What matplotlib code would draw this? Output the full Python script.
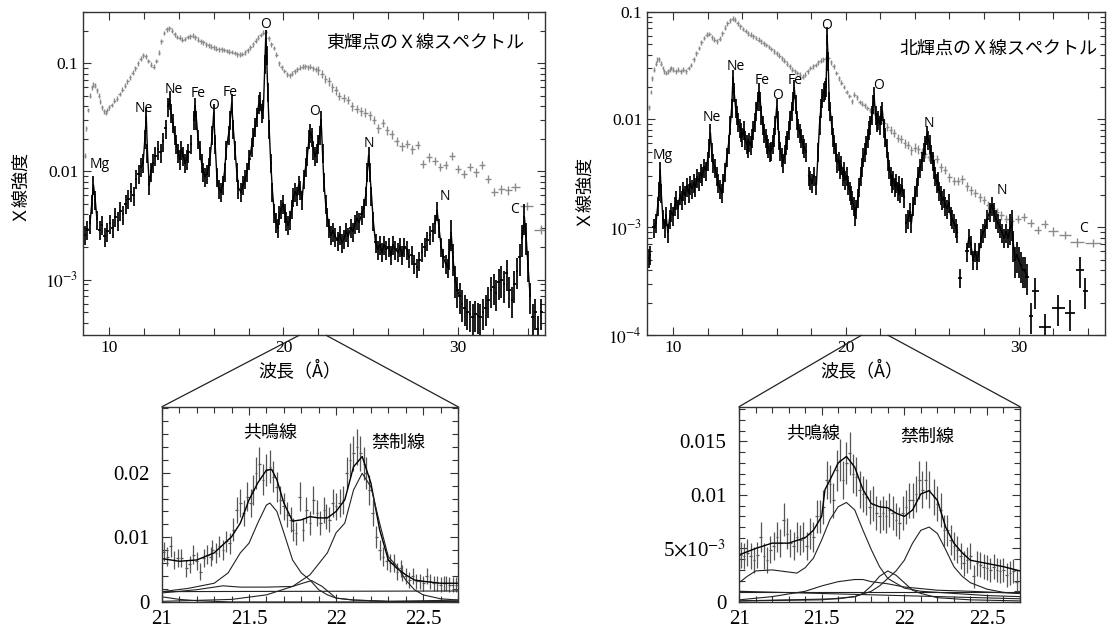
import numpy as np
import matplotlib
matplotlib.use('Agg')
import matplotlib.pyplot as plt
from matplotlib.patches import ConnectionPatch
from matplotlib.ticker import FixedLocator, FixedFormatter, MultipleLocator, LogLocator, NullFormatter

plt.rcParams['mathtext.fontset'] = 'stix'
JP = ['Noto Sans CJK JP', 'DejaVu Sans']
SERIF = ['Liberation Serif', 'DejaVu Serif']
LAB = ['Open Sans', 'DejaVu Sans']

# ---------------- data: east bright point (left) ----------------
EAST_BLACK = [
    (8.60, 2.6e-3), (8.75, 2.9e-3), (8.90, 3.3e-3), (9.00, 5.0e-3), (9.10, 7.5e-3), (9.20, 5.5e-3),
    (9.30, 3.6e-3), (9.45, 2.9e-3), (9.60, 3.2e-3), (9.75, 2.5e-3), (9.90, 2.8e-3), (10.05, 3.3e-3),
    (10.20, 3.0e-3), (10.35, 3.8e-3), (10.50, 3.5e-3), (10.65, 4.3e-3), (10.80, 4.0e-3), (10.95, 5.0e-3),
    (11.10, 5.6e-3), (11.25, 6.5e-3), (11.40, 6.0e-3), (11.55, 8.5e-3), (11.70, 9.5e-3), (11.85, 0.011),
    (11.95, 0.012), (12.05, 0.020), (12.13, 0.032), (12.20, 0.015), (12.30, 7.5e-3), (12.40, 0.010),
    (12.50, 0.012), (12.65, 0.014), (12.80, 0.016), (12.95, 0.015), (13.10, 0.019), (13.25, 0.025),
    (13.40, 0.040), (13.47, 0.046), (13.55, 0.035), (13.65, 0.028), (13.75, 0.022), (13.85, 0.018),
    (13.95, 0.015), (14.05, 0.013), (14.15, 0.016), (14.25, 0.014), (14.35, 0.012), (14.45, 0.013),
    (14.55, 0.015), (14.70, 0.018), (14.85, 0.030), (14.93, 0.040), (15.01, 0.030), (15.10, 0.020),
    (15.20, 0.016), (15.30, 0.012), (15.40, 0.010), (15.50, 9.0e-3), (15.60, 9.5e-3), (15.70, 0.011),
    (15.80, 0.014), (15.92, 0.022), (16.00, 0.035), (16.08, 0.018), (16.18, 9.0e-3), (16.28, 7.0e-3),
    (16.40, 6.5e-3), (16.52, 7.5e-3), (16.62, 0.010), (16.72, 0.016), (16.85, 0.022), (16.95, 0.030),
    (17.03, 0.043), (17.12, 0.025), (17.22, 0.016), (17.32, 0.010), (17.42, 7.0e-3), (17.55, 6.5e-3),
    (17.68, 7.5e-3), (17.80, 8.5e-3), (17.92, 0.010), (18.05, 0.013), (18.17, 0.017), (18.28, 0.021),
    (18.38, 0.026), (18.48, 0.032), (18.58, 0.042), (18.66, 0.045), (18.75, 0.035), (18.85, 0.038),
    (18.93, 0.10), (18.98, 0.17), (19.03, 0.12), (19.10, 0.055), (19.18, 0.025), (19.27, 0.012),
    (19.37, 6.5e-3), (19.47, 4.2e-3), (19.57, 3.4e-3), (19.67, 3.0e-3), (19.77, 4.0e-3), (19.87, 4.5e-3),
    (19.97, 5.0e-3), (20.07, 4.2e-3), (20.17, 3.5e-3), (20.27, 3.2e-3), (20.37, 3.6e-3), (20.47, 4.5e-3),
    (20.57, 5.8e-3), (20.67, 6.5e-3), (20.77, 6.0e-3), (20.87, 7.5e-3), (20.97, 6.8e-3), (21.07, 5.5e-3),
    (21.17, 8.5e-3), (21.27, 0.011), (21.37, 0.014), (21.47, 0.020), (21.55, 0.023), (21.63, 0.021),
    (21.72, 0.016), (21.80, 0.014), (21.90, 0.015), (22.00, 0.018), (22.08, 0.022), (22.16, 0.030),
    (22.24, 0.015), (22.32, 8.0e-3), (22.42, 5.0e-3), (22.52, 3.8e-3), (22.62, 3.0e-3), (22.72, 2.6e-3),
    (22.85, 2.8e-3), (22.98, 2.5e-3), (23.10, 2.3e-3), (23.22, 2.6e-3), (23.35, 2.2e-3), (23.48, 2.4e-3),
    (23.60, 2.8e-3), (23.72, 2.5e-3), (23.85, 3.0e-3), (23.98, 2.8e-3), (24.10, 3.3e-3), (24.22, 3.6e-3),
    (24.35, 3.4e-3), (24.48, 4.0e-3), (24.60, 4.6e-3), (24.72, 6.0e-3), (24.82, 0.010), (24.88, 0.014),
    (24.95, 0.010), (25.05, 6.0e-3), (25.15, 3.5e-3), (25.28, 2.2e-3), (25.40, 1.9e-3), (25.52, 2.1e-3),
    (25.65, 1.8e-3), (25.78, 2.1e-3), (25.90, 1.9e-3), (26.03, 2.0e-3), (26.16, 1.7e-3), (26.29, 2.1e-3),
    (26.42, 1.9e-3), (26.55, 1.8e-3), (26.68, 2.0e-3), (26.81, 1.7e-3), (26.94, 2.0e-3), (27.07, 1.9e-3),
    (27.20, 1.6e-3), (27.35, 1.7e-3), (27.50, 1.4e-3), (27.65, 1.3e-3), (27.80, 1.5e-3), (27.95, 1.8e-3),
    (28.10, 2.0e-3), (28.25, 2.3e-3), (28.40, 2.6e-3), (28.55, 2.8e-3), (28.70, 3.3e-3), (28.82, 4.3e-3),
    (28.92, 3.0e-3), (29.05, 2.0e-3), (29.18, 1.6e-3), (29.30, 1.4e-3), (29.42, 1.3e-3), (29.52, 1.8e-3),
    (29.62, 2.7e-3), (29.72, 1.6e-3), (29.85, 1.0e-3), (29.98, 8.0e-4), (30.10, 7.0e-4), (30.25, 6.0e-4),
    (30.40, 5.5e-4), (30.55, 5.0e-4), (30.70, 4.8e-4), (30.85, 4.5e-4), (31.00, 4.8e-4), (31.15, 4.6e-4),
    (31.30, 4.5e-4), (31.45, 5.0e-4), (31.60, 5.5e-4), (31.75, 6.5e-4), (31.90, 8.0e-4), (32.05, 8.5e-4),
    (32.20, 7.5e-4), (32.35, 9.5e-4), (32.50, 1.0e-3), (32.65, 9.0e-4), (32.80, 1.15e-3), (32.95, 8.0e-4),
    (33.10, 6.5e-4), (33.25, 9.0e-4), (33.40, 1.2e-3), (33.55, 1.6e-3), (33.70, 2.4e-3), (33.82, 3.8e-3),
    (33.92, 2.5e-3), (34.02, 1.4e-3), (34.15, 7.0e-4), (34.30, 4.5e-4), (34.45, 5.0e-4), (34.60, 3.5e-4),
    (34.80, 5.0e-4),
]

EAST_GRAY = [
    (8.60, 0.014), (8.70, 0.025), (8.80, 0.037), (8.90, 0.050), (9.00, 0.060), (9.10, 0.064),
    (9.20, 0.062), (9.30, 0.056), (9.40, 0.050), (9.50, 0.044), (9.60, 0.039), (9.70, 0.036),
    (9.80, 0.035), (9.90, 0.037), (10.00, 0.039), (10.15, 0.041), (10.30, 0.045), (10.45, 0.047),
    (10.60, 0.052), (10.75, 0.057), (10.90, 0.062), (11.05, 0.068), (11.20, 0.074), (11.35, 0.082),
    (11.50, 0.090), (11.65, 0.100), (11.80, 0.110), (11.95, 0.118), (12.10, 0.116), (12.25, 0.105),
    (12.40, 0.097), (12.55, 0.093), (12.70, 0.105), (12.85, 0.125), (13.00, 0.160), (13.15, 0.190),
    (13.30, 0.205), (13.45, 0.210), (13.60, 0.200), (13.75, 0.185), (13.90, 0.175), (14.05, 0.172),
    (14.20, 0.165), (14.35, 0.168), (14.50, 0.175), (14.65, 0.178), (14.80, 0.180), (14.95, 0.174),
    (15.10, 0.165), (15.25, 0.160), (15.40, 0.156), (15.55, 0.150), (15.70, 0.146), (15.85, 0.142),
    (16.00, 0.140), (16.15, 0.136), (16.30, 0.134), (16.45, 0.135), (16.60, 0.133), (16.75, 0.130),
    (16.90, 0.128), (17.05, 0.127), (17.20, 0.124), (17.35, 0.121), (17.50, 0.120), (17.65, 0.122),
    (17.80, 0.126), (17.95, 0.132), (18.10, 0.140), (18.25, 0.150), (18.40, 0.162), (18.55, 0.172),
    (18.70, 0.182), (18.85, 0.192), (19.00, 0.195), (19.15, 0.170), (19.30, 0.150), (19.45, 0.138),
    (19.60, 0.120), (19.75, 0.100), (19.90, 0.092), (20.05, 0.085), (20.20, 0.079), (20.35, 0.077),
    (20.50, 0.080), (20.65, 0.084), (20.80, 0.088), (20.95, 0.091), (21.10, 0.093), (21.25, 0.094),
    (21.40, 0.092), (21.55, 0.093), (21.70, 0.090), (21.85, 0.088), (22.00, 0.086), (22.20, 0.080),
    (22.40, 0.072), (22.60, 0.068), (22.80, 0.060), (23.00, 0.056), (23.20, 0.050), (23.45, 0.048),
    (23.70, 0.046), (23.95, 0.040), (24.20, 0.038), (24.45, 0.036), (24.70, 0.035), (24.95, 0.033),
    (25.20, 0.030), (25.45, 0.025), (25.70, 0.028), (25.95, 0.024), (26.20, 0.022), (26.50, 0.019),
    (26.80, 0.017), (27.10, 0.018), (27.40, 0.016), (27.70, 0.0175), (28.00, 0.0118), (28.35, 0.0135),
    (28.70, 0.0125), (29.00, 0.011), (29.30, 0.0115), (29.65, 0.014), (30.00, 0.0105), (30.35, 0.0095),
    (30.70, 0.011), (31.05, 0.0098), (31.40, 0.0115), (31.75, 0.0085), (32.10, 0.0065), (32.50, 0.0068),
    (32.90, 0.0067), (33.30, 0.0072), (33.95, 0.0048), (34.80, 0.0029),
]

# ---------------- data: north bright point (right) ----------------
NORTH_BLACK = [
    (8.60, 5.2e-4), (8.66, 5.6e-4), (8.90, 1.0e-3), (9.02, 1.1e-3), (9.12, 1.6e-3), (9.20, 2.2e-3),
    (9.26, 3.4e-3), (9.32, 2.1e-3), (9.42, 1.2e-3), (9.52, 1.0e-3), (9.60, 1.3e-3), (9.70, 9.0e-4),
    (9.80, 1.2e-3), (9.90, 1.4e-3), (10.00, 1.3e-3), (10.10, 1.6e-3), (10.20, 1.8e-3), (10.30, 1.5e-3),
    (10.40, 2.0e-3), (10.50, 1.8e-3), (10.60, 2.2e-3), (10.70, 2.0e-3), (10.80, 2.4e-3), (10.90, 2.1e-3),
    (11.00, 2.5e-3), (11.10, 2.3e-3), (11.20, 2.6e-3), (11.30, 2.4e-3), (11.40, 2.9e-3), (11.50, 2.7e-3),
    (11.60, 3.2e-3), (11.70, 3.0e-3), (11.80, 3.6e-3), (11.90, 3.4e-3), (12.00, 4.2e-3), (12.10, 5.5e-3),
    (12.17, 7.5e-3), (12.24, 5.0e-3), (12.32, 4.0e-3), (12.42, 3.6e-3), (12.52, 3.0e-3), (12.62, 2.6e-3),
    (12.72, 2.3e-3), (12.82, 2.1e-3), (12.92, 2.6e-3), (13.02, 3.3e-3), (13.12, 4.5e-3), (13.22, 6.0e-3),
    (13.32, 9.0e-3), (13.40, 0.013), (13.47, 0.024), (13.54, 0.018), (13.62, 0.013), (13.70, 0.011),
    (13.78, 0.0095), (13.86, 0.0085), (13.94, 0.0078), (14.02, 0.0070), (14.10, 0.0080), (14.18, 0.0065),
    (14.26, 0.0060), (14.34, 0.0055), (14.42, 0.0062), (14.50, 0.0058), (14.58, 0.0068), (14.66, 0.0080),
    (14.74, 0.0095), (14.82, 0.0120), (14.90, 0.0150), (14.98, 0.0180), (15.05, 0.0150), (15.12, 0.0110),
    (15.20, 0.0090), (15.28, 0.0075), (15.36, 0.0068), (15.44, 0.0060), (15.52, 0.0055), (15.60, 0.0050),
    (15.68, 0.0052), (15.76, 0.0060), (15.84, 0.0070), (15.92, 0.0090), (16.00, 0.0130), (16.06, 0.0100),
    (16.14, 0.0065), (16.22, 0.0052), (16.30, 0.0045), (16.38, 0.0040), (16.46, 0.0048), (16.54, 0.0058),
    (16.62, 0.0065), (16.70, 0.0080), (16.78, 0.0100), (16.86, 0.0120), (16.94, 0.0150), (17.02, 0.0195),
    (17.10, 0.0140), (17.18, 0.0100), (17.26, 0.0085), (17.34, 0.0075), (17.42, 0.0068), (17.50, 0.0060),
    (17.60, 0.0055), (17.70, 0.0050), (17.85, 0.0030), (17.95, 0.0028), (18.05, 0.0026), (18.15, 0.0030),
    (18.30, 0.0025), (18.40, 0.0050), (18.48, 0.0090), (18.56, 0.0130), (18.64, 0.0160), (18.72, 0.0180),
    (18.80, 0.0190), (18.86, 0.0200), (18.92, 0.0600), (18.98, 0.0350), (19.04, 0.0150), (19.10, 0.0120),
    (19.18, 0.0090), (19.26, 0.0070), (19.34, 0.0060), (19.42, 0.0050), (19.50, 0.0040), (19.58, 0.0042),
    (19.66, 0.0035), (19.74, 0.0038), (19.82, 0.0030), (19.90, 0.0034), (19.98, 0.0028), (20.06, 0.0030),
    (20.14, 0.0025), (20.22, 0.0022), (20.30, 0.0020), (20.38, 0.0018), (20.46, 0.0016), (20.54, 0.0013),
    (20.62, 0.0015), (20.70, 0.0019), (20.78, 0.0024), (20.86, 0.0030), (20.94, 0.0037), (21.02, 0.0045),
    (21.10, 0.0050), (21.18, 0.0058), (21.26, 0.0068), (21.34, 0.0080), (21.42, 0.0090), (21.50, 0.0110),
    (21.58, 0.0140), (21.64, 0.0165), (21.72, 0.0110), (21.80, 0.0095), (21.88, 0.0100), (21.96, 0.0090),
    (22.04, 0.0110), (22.12, 0.0120), (22.20, 0.0085), (22.28, 0.0070), (22.36, 0.0055), (22.44, 0.0042),
    (22.52, 0.0035), (22.60, 0.0030), (22.68, 0.0026), (22.76, 0.0028), (22.84, 0.0024), (22.92, 0.0026),
    (23.00, 0.0022), (23.08, 0.0025), (23.16, 0.0021), (23.26, 0.0024), (23.36, 0.0019), (23.50, 0.0011),
    (23.60, 0.0012), (23.70, 0.0014), (23.80, 0.0011), (23.90, 0.0016), (24.00, 0.0020), (24.10, 0.0024),
    (24.20, 0.0030), (24.30, 0.0036), (24.40, 0.0042), (24.50, 0.0050), (24.60, 0.0058), (24.70, 0.0072),
    (24.78, 0.0065), (24.86, 0.0060), (24.94, 0.0048), (25.02, 0.0042), (25.10, 0.0035), (25.18, 0.0030),
    (25.26, 0.0026), (25.34, 0.0027), (25.42, 0.0022), (25.50, 0.0020), (25.58, 0.0018), (25.66, 0.0019),
    (25.76, 0.0016), (25.86, 0.0015), (25.96, 0.0017), (26.06, 0.0013), (26.16, 0.0012), (26.26, 0.0011),
    (26.36, 0.0010), (26.46, 0.0009), (26.60, 3.4e-4), (27.00, 6.0e-4), (27.12, 8.0e-4), (27.24, 7.0e-4),
    (27.36, 5.0e-4), (27.48, 6.0e-4), (27.60, 5.0e-4), (27.72, 6.0e-4), (27.84, 8.0e-4), (27.96, 9.0e-4),
    (28.08, 1.0e-3), (28.20, 1.2e-3), (28.32, 1.4e-3), (28.44, 1.6e-3), (28.56, 1.4e-3), (28.68, 1.2e-3),
    (28.80, 1.1e-3), (28.92, 1.0e-3), (29.04, 9.0e-4), (29.16, 8.0e-4), (29.28, 9.0e-4), (29.40, 8.0e-4),
    (29.52, 1.0e-3), (29.60, 1.1e-3), (29.70, 7.0e-4), (29.80, 5.0e-4), (29.90, 5.5e-4), (30.00, 5.0e-4),
    (30.12, 4.5e-4), (30.24, 4.0e-4), (30.36, 4.0e-4), (30.48, 3.5e-4), (30.74, 1.5e-4), (30.97, 2.6e-4),
    (31.54, 1.2e-4), (32.30, 1.8e-4), (32.97, 1.6e-4), (33.54, 4.0e-4), (33.87, 2.6e-4),
]

NORTH_GRAY = [
    (8.60, 0.013), (8.70, 0.018), (8.80, 0.024), (8.90, 0.029), (9.00, 0.033), (9.10, 0.036),
    (9.20, 0.036), (9.30, 0.033), (9.40, 0.030), (9.50, 0.028), (9.60, 0.027), (9.70, 0.028),
    (9.80, 0.029), (9.90, 0.030), (10.00, 0.029), (10.15, 0.028), (10.30, 0.029), (10.45, 0.028),
    (10.60, 0.029), (10.75, 0.028), (10.90, 0.030), (11.05, 0.032), (11.20, 0.036), (11.35, 0.041),
    (11.50, 0.046), (11.65, 0.052), (11.80, 0.057), (11.95, 0.061), (12.10, 0.062), (12.25, 0.058),
    (12.40, 0.055), (12.55, 0.053), (12.70, 0.056), (12.85, 0.063), (13.00, 0.071), (13.15, 0.078),
    (13.30, 0.083), (13.45, 0.086), (13.60, 0.084), (13.75, 0.078), (13.90, 0.073), (14.05, 0.069),
    (14.20, 0.066), (14.35, 0.063), (14.50, 0.061), (14.65, 0.059), (14.80, 0.057), (14.95, 0.055),
    (15.10, 0.053), (15.25, 0.051), (15.40, 0.049), (15.55, 0.047), (15.70, 0.045), (15.85, 0.043),
    (16.00, 0.041), (16.15, 0.039), (16.30, 0.037), (16.45, 0.035), (16.60, 0.033), (16.75, 0.031),
    (16.90, 0.029), (17.05, 0.028), (17.20, 0.027), (17.35, 0.026), (17.50, 0.025), (17.65, 0.026),
    (17.80, 0.028), (17.95, 0.030), (18.10, 0.031), (18.25, 0.032), (18.40, 0.034), (18.55, 0.035),
    (18.70, 0.036), (18.85, 0.037), (19.00, 0.037), (19.15, 0.034), (19.30, 0.031), (19.45, 0.027),
    (19.60, 0.024), (19.75, 0.022), (19.90, 0.020), (20.05, 0.018), (20.20, 0.0165), (20.35, 0.0148),
    (20.50, 0.017), (20.65, 0.016), (20.80, 0.0145), (20.95, 0.0140), (21.10, 0.0135), (21.25, 0.0128),
    (21.40, 0.0122), (21.55, 0.0118), (21.70, 0.0112), (21.85, 0.0108), (22.00, 0.0100), (22.20, 0.0092),
    (22.40, 0.0086), (22.60, 0.0080), (22.80, 0.0075), (23.00, 0.0068), (23.20, 0.0066), (23.40, 0.0060),
    (23.60, 0.0058), (23.80, 0.0052), (24.00, 0.0055), (24.20, 0.0053), (24.40, 0.0050), (24.60, 0.0048),
    (24.80, 0.0045), (25.00, 0.0046), (25.25, 0.0043), (25.50, 0.0036), (25.75, 0.0034), (26.00, 0.0029),
    (26.25, 0.0027), (26.50, 0.0027), (26.75, 0.0028), (27.00, 0.0024), (27.25, 0.0022), (27.50, 0.0021),
    (27.75, 0.0019), (28.00, 0.0018), (28.25, 0.0016), (28.50, 0.0015), (28.75, 0.0014), (29.00, 0.0013),
    (29.30, 0.0012), (29.60, 0.00115), (29.95, 0.0012), (30.30, 0.00125), (30.70, 0.0011), (31.10, 0.00095),
    (31.50, 0.00108), (32.00, 0.00092), (32.70, 0.00085), (33.40, 0.00073), (34.30, 0.00072),
]

# element labels: (wavelength, intensity, text)
EAST_LINES = [(9.43, 0.0115, 'Mg'), (11.99, 0.0385, 'Ne'), (13.68, 0.057, 'Ne'), (15.11, 0.053, 'Fe'),
              (16.0, 0.041, 'O'), (16.92, 0.054, 'Fe'), (18.97, 0.23, 'O'), (21.8, 0.036, 'O'),
              (24.89, 0.018, 'N'), (29.24, 0.0058, 'N'), (33.24, 0.0044, 'C')]
NORTH_LINES = [(9.39, 0.0046, 'Mg'), (12.22, 0.0104, 'Ne'), (13.64, 0.031, 'Ne'), (15.15, 0.0231, 'Fe'),
               (16.02, 0.0166, 'O'), (17.07, 0.0231, 'Fe'), (18.89, 0.075, 'O'), (21.92, 0.0208, 'O'),
               (24.81, 0.0091, 'N'), (29.03, 0.0022, 'N'), (33.78, 0.00098, 'C')]

# ---------------- inset data (O VII triplet) ----------------
EAST_ZOOM = [
    (21.01, 0.0078), (21.03, 0.0070), (21.05, 0.0086), (21.07, 0.0065), (21.09, 0.0068), (21.11, 0.0068),
    (21.14, 0.0052), (21.16, 0.0058), (21.18, 0.0073), (21.20, 0.0063), (21.22, 0.0047), (21.24, 0.0068),
    (21.26, 0.0073), (21.28, 0.0070), (21.29, 0.0081), (21.31, 0.0076), (21.33, 0.0086), (21.35, 0.0081),
    (21.37, 0.0094), (21.39, 0.0091), (21.41, 0.0112), (21.43, 0.0142), (21.45, 0.0153), (21.47, 0.0137),
    (21.49, 0.0163), (21.51, 0.0153), (21.52, 0.0173), (21.54, 0.0199), (21.56, 0.0214), (21.58, 0.0189),
    (21.60, 0.0204), (21.62, 0.0209), (21.64, 0.0194), (21.66, 0.0178), (21.68, 0.0158), (21.70, 0.0148),
    (21.72, 0.0135), (21.74, 0.0127), (21.75, 0.0112), (21.77, 0.0106), (21.79, 0.0163), (21.81, 0.0112),
    (21.83, 0.0142), (21.85, 0.0122), (21.87, 0.0158), (21.89, 0.0137), (21.91, 0.0122), (21.93, 0.0142),
    (21.94, 0.0132), (21.96, 0.0127), (21.98, 0.0153), (22.00, 0.0148), (22.02, 0.0153), (22.04, 0.0158),
    (22.06, 0.0199), (22.08, 0.0220), (22.10, 0.0230), (22.12, 0.0240), (22.14, 0.0230), (22.16, 0.0214),
    (22.17, 0.0199), (22.19, 0.0173), (22.21, 0.0137), (22.23, 0.0101), (22.25, 0.0081), (22.27, 0.0070),
    (22.29, 0.0063), (22.31, 0.0060), (22.33, 0.0060), (22.35, 0.0047), (22.37, 0.0052), (22.38, 0.0045),
    (22.40, 0.0040), (22.42, 0.0034), (22.44, 0.0040), (22.46, 0.0032), (22.48, 0.0032), (22.50, 0.0029),
    (22.52, 0.0040), (22.54, 0.0032), (22.56, 0.0029), (22.58, 0.0029), (22.60, 0.0027), (22.62, 0.0029),
    (22.63, 0.0029), (22.65, 0.0027), (22.67, 0.0027), (22.69, 0.0027),
]
EAST_MODEL = [
    (21.0, 0.0067), (21.1, 0.0063), (21.2, 0.0065), (21.3, 0.0076), (21.4, 0.0101), (21.45, 0.0122),
    (21.5, 0.0158), (21.55, 0.0184), (21.6, 0.0204), (21.63, 0.0205), (21.66, 0.0189), (21.7, 0.0153),
    (21.75, 0.0125), (21.8, 0.0127), (21.85, 0.0132), (21.9, 0.0130), (21.95, 0.0130), (22.0, 0.0140),
    (22.05, 0.0158), (22.1, 0.0209), (22.15, 0.0225), (22.2, 0.0184), (22.25, 0.0112), (22.3, 0.0065),
    (22.35, 0.0052), (22.4, 0.0042), (22.45, 0.0034), (22.5, 0.0032), (22.6, 0.0029), (22.7, 0.0029),
]
EAST_RESONANCE = [
    (21.0, 0.0016), (21.15, 0.0021), (21.3, 0.0029), (21.38, 0.0045), (21.45, 0.0076), (21.5, 0.0091),
    (21.55, 0.0122), (21.6, 0.0150), (21.62, 0.0153), (21.66, 0.0140), (21.7, 0.0107), (21.75, 0.0065),
    (21.8, 0.0045), (21.85, 0.0034), (21.9, 0.0019), (21.95, 0.0011), (22.0, 0.0006), (22.1, 0.0003),
    (22.3, 0.0001), (22.7, 0.0001),
]
EAST_FORBIDDEN = [
    (21.0, 0.0001), (21.4, 0.0004), (21.6, 0.0011), (21.75, 0.0024), (21.85, 0.0042), (21.95, 0.0076),
    (22.0, 0.0107), (22.05, 0.0122), (22.1, 0.0173), (22.15, 0.0199), (22.2, 0.0178), (22.25, 0.0122),
    (22.3, 0.0070), (22.35, 0.0055), (22.4, 0.0034), (22.45, 0.0019), (22.5, 0.0011), (22.6, 0.0005),
    (22.7, 0.0003),
]
EAST_INTERCOMB = [
    (21.0, 0.0014), (21.2, 0.0019), (21.35, 0.0025), (21.45, 0.0023), (21.6, 0.0023), (21.75, 0.0024),
    (21.82, 0.0030), (21.86, 0.0033), (21.92, 0.0024), (22.0, 0.0006), (22.1, 0.0003), (22.3, 0.0001),
    (22.7, 0.0001),
]
EAST_CONT = [(21.0, 0.0016), (22.7, 0.0017)]
EAST_MINOR = [(21.0, 0.0008), (21.1, 0.0004), (21.2, 0.0002), (21.4, 0.0000), (22.2, 0.0000), (22.7, 0.0003)]

NORTH_ZOOM = [
    (21.01, 0.0044), (21.03, 0.0043), (21.05, 0.0046), (21.07, 0.0043), (21.09, 0.0039), (21.11, 0.0044),
    (21.13, 0.0061), (21.15, 0.0043), (21.17, 0.0039), (21.19, 0.0049), (21.21, 0.0052), (21.23, 0.0061),
    (21.25, 0.0055), (21.27, 0.0077), (21.29, 0.0064), (21.31, 0.0055), (21.33, 0.0052), (21.35, 0.0061),
    (21.37, 0.0058), (21.39, 0.0061), (21.41, 0.0052), (21.43, 0.0064), (21.45, 0.0061), (21.47, 0.0080),
    (21.49, 0.0080), (21.51, 0.0089), (21.53, 0.0114), (21.55, 0.0110), (21.57, 0.0095), (21.59, 0.0123),
    (21.61, 0.0133), (21.63, 0.0114), (21.65, 0.0130), (21.67, 0.0139), (21.69, 0.0120), (21.71, 0.0117),
    (21.73, 0.0105), (21.75, 0.0101), (21.77, 0.0098), (21.79, 0.0089), (21.81, 0.0092), (21.83, 0.0083),
    (21.85, 0.0080), (21.87, 0.0083), (21.89, 0.0080), (21.91, 0.0086), (21.93, 0.0083), (21.95, 0.0077),
    (21.97, 0.0074), (21.99, 0.0083), (22.01, 0.0089), (22.03, 0.0095), (22.05, 0.0095), (22.07, 0.0101),
    (22.09, 0.0114), (22.11, 0.0105), (22.13, 0.0114), (22.15, 0.0105), (22.18, 0.0098), (22.20, 0.0092),
    (22.22, 0.0086), (22.24, 0.0067), (22.26, 0.0067), (22.28, 0.0058), (22.30, 0.0052), (22.32, 0.0049),
    (22.34, 0.0043), (22.36, 0.0036), (22.38, 0.0039), (22.40, 0.0043), (22.42, 0.0024), (22.44, 0.0036),
    (22.46, 0.0035), (22.48, 0.0033), (22.50, 0.0032), (22.52, 0.0030), (22.54, 0.0033), (22.56, 0.0030),
    (22.58, 0.0029), (22.60, 0.0030), (22.62, 0.0025), (22.64, 0.0027), (22.66, 0.0029), (22.68, 0.0019),
]
NORTH_MODEL = [
    (21.0, 0.0044), (21.1, 0.0050), (21.2, 0.0055), (21.3, 0.0055), (21.4, 0.0060), (21.45, 0.0067),
    (21.5, 0.0080), (21.52, 0.0105), (21.55, 0.0114), (21.6, 0.0130), (21.65, 0.0136), (21.7, 0.0126),
    (21.75, 0.0105), (21.8, 0.0092), (21.85, 0.0089), (21.9, 0.0088), (21.95, 0.0083), (22.0, 0.0080),
    (22.05, 0.0086), (22.1, 0.0101), (22.15, 0.0104), (22.2, 0.0095), (22.25, 0.0070), (22.3, 0.0055),
    (22.35, 0.0046), (22.4, 0.0039), (22.5, 0.0036), (22.6, 0.0033), (22.7, 0.0029),
]
NORTH_RESONANCE = [
    (21.0, 0.0018), (21.05, 0.0024), (21.1, 0.0029), (21.2, 0.0030), (21.3, 0.0028), (21.35, 0.0027),
    (21.4, 0.0032), (21.45, 0.0041), (21.5, 0.0058), (21.55, 0.0077), (21.6, 0.0089), (21.65, 0.0093),
    (21.7, 0.0086), (21.75, 0.0067), (21.8, 0.0049), (21.85, 0.0033), (21.9, 0.0022), (22.0, 0.0013),
    (22.1, 0.0010), (22.3, 0.0008), (22.5, 0.0006), (22.7, 0.0005),
]
NORTH_FORBIDDEN = [
    (21.0, 0.0001), (21.5, 0.0002), (21.7, 0.0005), (21.8, 0.0010), (21.85, 0.0015), (21.9, 0.0022),
    (21.95, 0.0029), (22.0, 0.0039), (22.05, 0.0055), (22.1, 0.0067), (22.15, 0.0070), (22.2, 0.0064),
    (22.25, 0.0049), (22.3, 0.0033), (22.35, 0.0024), (22.4, 0.0018), (22.5, 0.0012), (22.6, 0.0009),
    (22.7, 0.0008),
]
NORTH_INTERCOMB = [
    (21.0, 0.0001), (21.6, 0.0003), (21.7, 0.0005), (21.75, 0.0008), (21.8, 0.0015), (21.85, 0.0024),
    (21.9, 0.0029), (21.95, 0.0025), (22.0, 0.0018), (22.05, 0.0011), (22.1, 0.0008), (22.2, 0.0004),
    (22.4, 0.0002), (22.7, 0.0001),
]
NORTH_BROAD = [
    (21.0, 0.0002), (21.2, 0.0005), (21.4, 0.0010), (21.5, 0.0015), (21.6, 0.0019), (21.7, 0.0021),
    (21.75, 0.0021), (21.8, 0.0019), (21.9, 0.0017), (22.0, 0.0014), (22.2, 0.0011), (22.4, 0.0010),
    (22.7, 0.0008),
]
NORTH_CONT = [(21.0, 0.0009), (22.7, 0.0009)]
NORTH_MINOR = [(21.0, 0.0010), (22.7, 0.0003)]

EAST_YTICKS = [1e-3, 1e-2, 1e-1]
EAST_YLABELS = [r'$10^{-3}$', '0.01', '0.1']
NORTH_YTICKS = [1e-4, 1e-3, 1e-2, 1e-1]
NORTH_YLABELS = [r'$10^{-4}$', r'$10^{-3}$', '0.01', '0.1']
X_TICKS = [10, 20, 30]
ZOOM_XTICKS = [21, 21.5, 22, 22.5]
ZOOM_XLABELS = ['21', '21.5', '22', '22.5']
EAST_ZYTICKS = [0, 0.01, 0.02]
EAST_ZYLABELS = ['0', '0.01', '0.02']
NORTH_ZYTICKS = [0, 0.005, 0.01, 0.015]
NORTH_ZYLABELS = ['0', r'5$\times$10$^{-3}$', '0.01', '0.015']

TITLES = ['東輝点のＸ線スペクトル', '北輝点のＸ線スペクトル']
YLABEL = 'Ｘ線強度'
XLABEL = '波長（Å）'
RES_LABEL = '共鳴線'
FORB_LABEL = '禁制線'

# ---------------- figure ----------------
fig = plt.figure(figsize=(11.11, 6.33), dpi=100)
axL = fig.add_axes([0.0747, 0.4703, 0.4158, 0.5114])
axR = fig.add_axes([0.5824, 0.4703, 0.4122, 0.5114])
insL = fig.add_axes([0.1458, 0.0490, 0.2664, 0.3085])
insR = fig.add_axes([0.6652, 0.0490, 0.2529, 0.3085])

SPINE = '#333333'


def style_frame(ax):
    for s in ax.spines.values():
        s.set_linewidth(1.0)
        s.set_color(SPINE)
    ax.tick_params(which='both', direction='in', top=True, right=True, color=SPINE, width=0.8)


def broken(x, y, gap):
    """Insert NaN where neighbouring bins are far apart, so the trace line breaks there."""
    xs, ys = [x[0]], [y[0]]
    for i in range(1, len(x)):
        if x[i] - x[i - 1] > gap:
            xs.append(np.nan)
            ys.append(np.nan)
        xs.append(x[i])
        ys.append(y[i])
    return xs, ys


def spectrum(ax, black, gray, lines, yticks, ylabels, ylim, title, title_pos):
    bx, by = map(np.array, zip(*black))
    gx, gy = map(np.array, zip(*gray))
    gxe = np.gradient(gx) / 2
    ax.errorbar(gx, gy, xerr=gxe, yerr=np.where(gx < 22, 0.05, 0.09) * gy, fmt='none',
                ecolor='#8a8a8a', elinewidth=1.0)
    bxe = np.gradient(bx) / 2
    rel = np.where(bx < 29.5, 0.2, 0.32)
    ax.errorbar(bx, by, xerr=bxe, yerr=rel * by, fmt='none', ecolor='black', elinewidth=1.25)
    lx, ly = broken(bx, by, 0.135)
    ax.plot(lx, ly, color='black', lw=1.0)
    ax.set_yscale('log')
    ax.set_xlim(8.5, 35.0)
    ax.set_ylim(*ylim)
    ax.xaxis.set_major_locator(FixedLocator(X_TICKS))
    ax.xaxis.set_minor_locator(MultipleLocator(2))
    ax.yaxis.set_major_locator(FixedLocator(yticks))
    ax.yaxis.set_major_formatter(FixedFormatter(ylabels))
    ax.yaxis.set_minor_locator(LogLocator(base=10, subs=np.arange(2, 10), numticks=20))
    ax.yaxis.set_minor_formatter(NullFormatter())
    style_frame(ax)
    ax.tick_params(which='major', length=6)
    ax.tick_params(which='minor', length=3.5)
    ax.tick_params(axis='x', which='minor', length=5)
    for lab in ax.get_xticklabels() + ax.get_yticklabels():
        lab.set_family(SERIF)
        lab.set_fontsize(12.5)
    for x, y, t in lines:
        ax.text(x, y, t, ha='center', va='center', fontsize=10, family=LAB, color='black')
    ax.text(title_pos[0], title_pos[1], title, transform=ax.transAxes, ha='center', va='center',
            fontsize=13, family=JP)


spectrum(axL, EAST_BLACK, EAST_GRAY, EAST_LINES, EAST_YTICKS, EAST_YLABELS, (3.05e-4, 0.30),
         TITLES[0], (0.74, 0.905))
spectrum(axR, NORTH_BLACK, NORTH_GRAY, NORTH_LINES, NORTH_YTICKS, NORTH_YLABELS, (1e-4, 0.1),
         TITLES[1], (0.768, 0.885))


def inset(ax, data, model, comps, yticks, ylabels, ylim, minor_y, res_pos, forb_pos):
    dx, dy = map(np.array, zip(*data))
    ax.errorbar(dx, dy, xerr=0.008, yerr=0.0009 + 0.08 * dy, fmt='none', ecolor='#555555',
                elinewidth=0.9)
    mx, my = zip(*model)
    ax.plot(mx, my, color='black', lw=1.0)
    for c in comps:
        cx, cy = zip(*c)
        ax.plot(cx, cy, color='#222222', lw=0.8)
    ax.set_xlim(21.0, 22.7)
    ax.set_ylim(*ylim)
    ax.xaxis.set_major_locator(FixedLocator(ZOOM_XTICKS))
    ax.xaxis.set_major_formatter(FixedFormatter(ZOOM_XLABELS))
    ax.xaxis.set_minor_locator(MultipleLocator(0.1))
    ax.yaxis.set_major_locator(FixedLocator(yticks))
    ax.yaxis.set_major_formatter(FixedFormatter(ylabels))
    ax.yaxis.set_minor_locator(MultipleLocator(minor_y))
    style_frame(ax)
    ax.tick_params(which='major', length=6)
    ax.tick_params(which='minor', length=4)
    ax.tick_params(axis='y', pad=9)
    ax.tick_params(axis='x', pad=6)
    for lab in ax.get_xticklabels() + ax.get_yticklabels():
        lab.set_family(SERIF)
        lab.set_fontsize(15)
    ax.text(res_pos[0], res_pos[1], RES_LABEL, ha='center', va='center', fontsize=13, family=JP)
    ax.text(forb_pos[0], forb_pos[1], FORB_LABEL, ha='center', va='center', fontsize=13, family=JP)


inset(insL, EAST_ZOOM, EAST_MODEL,
      [EAST_RESONANCE, EAST_FORBIDDEN, EAST_INTERCOMB, EAST_CONT, EAST_MINOR],
      EAST_ZYTICKS, EAST_ZYLABELS, (0, 0.0302), 0.002, (21.62, 0.0261), (22.36, 0.0246))
inset(insR, NORTH_ZOOM, NORTH_MODEL,
      [NORTH_RESONANCE, NORTH_FORBIDDEN, NORTH_INTERCOMB, NORTH_BROAD, NORTH_CONT, NORTH_MINOR],
      NORTH_ZYTICKS, NORTH_ZYLABELS, (0, 0.01825), 0.001, (21.45, 0.0157), (22.14, 0.01545))

# connectors from the main panels to the insets
for main, ins in ((axL, insL), (axR, insR)):
    y0 = main.get_ylim()[0]
    for xa, xb in ((20.9, 0.0), (22.45, 1.0)):
        con = ConnectionPatch(xyA=(xa, y0), coordsA=main.transData, xyB=(xb, 1.0),
                              coordsB=ins.transAxes, color='#222222', lw=0.9)
        fig.add_artist(con)

# axis labels
fig.text(18 / 1111, 1 - 185 / 633, YLABEL, rotation=90, ha='center', va='center', fontsize=13, family=JP)
fig.text(582 / 1111, 1 - 190 / 633, YLABEL, rotation=90, ha='center', va='center', fontsize=13, family=JP)
fig.text(300 / 1111, 1 - 370 / 633, XLABEL, ha='center', va='center', fontsize=13, family=JP)
fig.text(862 / 1111, 1 - 370 / 633, XLABEL, ha='center', va='center', fontsize=13, family=JP)

fig.savefig('out.png', dpi=100, facecolor='white')
